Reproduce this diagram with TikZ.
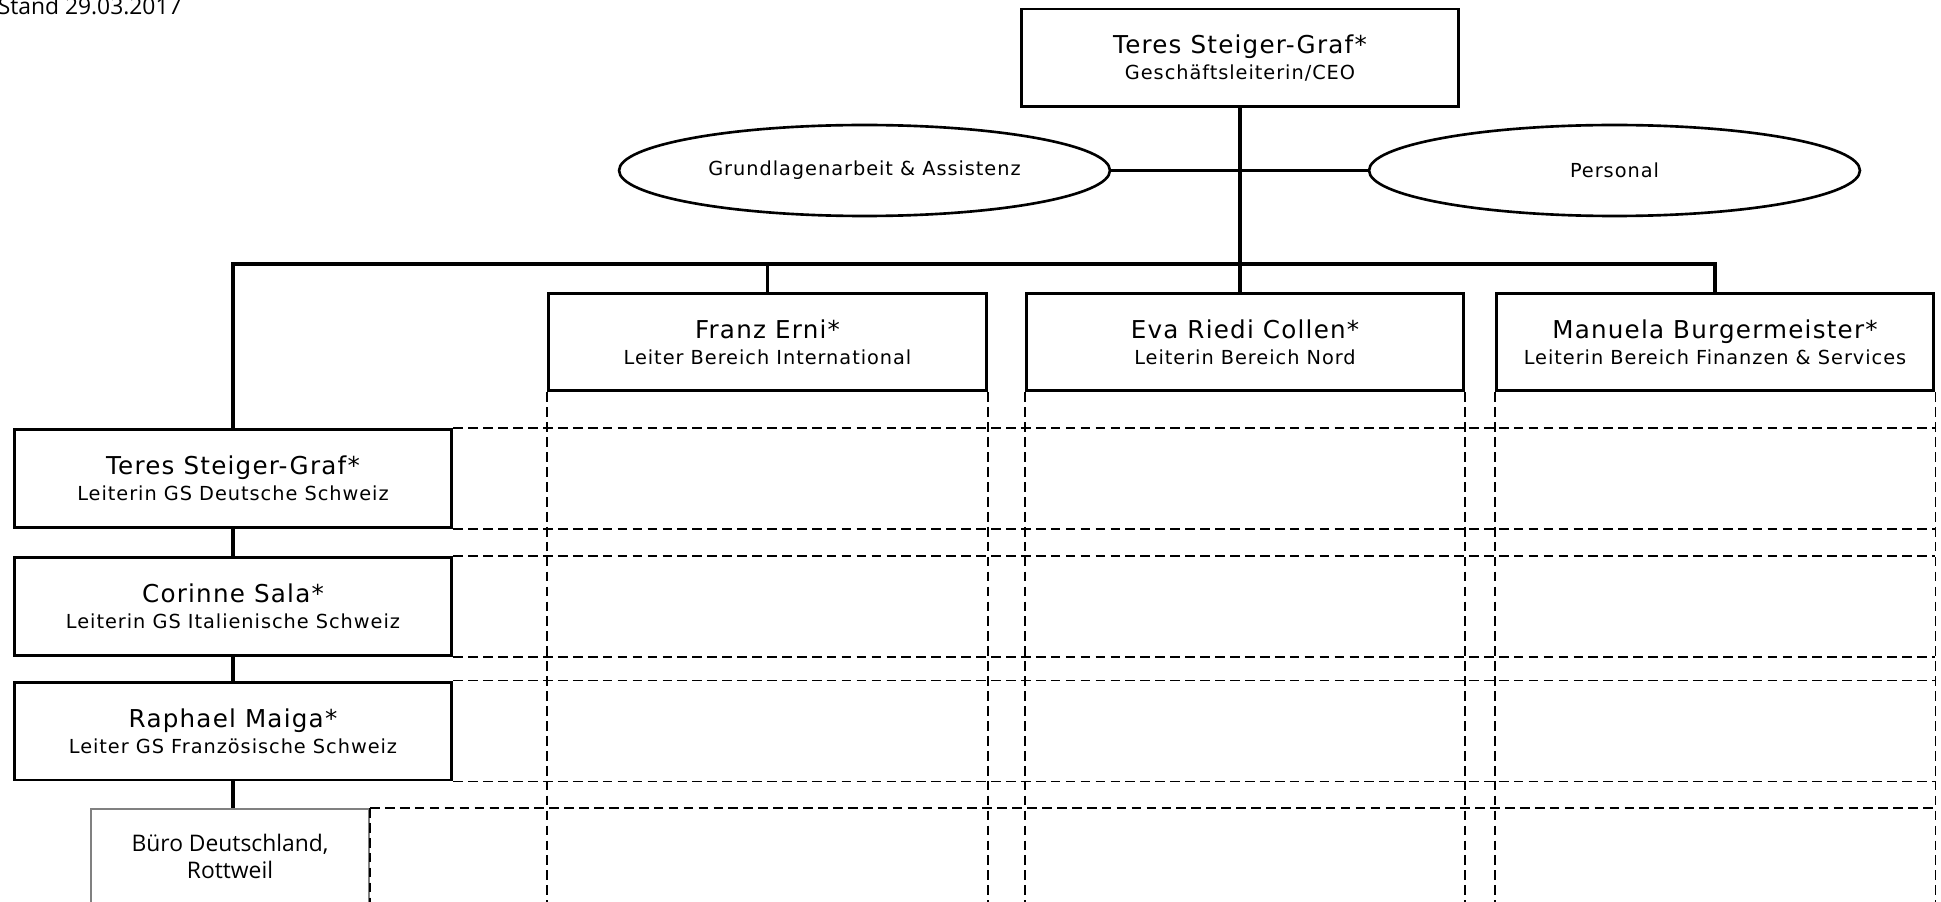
\documentclass[tikz,border=0pt]{standalone}
\usepackage{fontspec}
\setmainfont[LetterSpace=5]{DejaVu Sans}
\newfontfamily\officefont{Open Sans}
\usetikzlibrary{shapes.geometric}
\tikzset{person/.style={draw, line width=1.7pt, minimum width=8.76cm, minimum height=1.96cm, inner sep=0pt, align=center, font=\fontsize{11}{15}\selectfont}}
\tikzset{staff/.style={draw, ellipse, line width=1.5pt, minimum width=9.82cm, minimum height=1.82cm, inner sep=0pt, font=\fontsize{11}{15}\selectfont}}
\tikzset{office/.style={draw=gray, line width=1.2pt, anchor=north, minimum width=5.56cm, inner ysep=0.51cm, text depth=3cm, align=center, font=\officefont\fontsize{13}{15}\selectfont}}
\tikzset{link/.style={line width=1.9pt}}
\tikzset{slot/.style={line width=1.1pt, dash pattern=on 5.5pt off 3pt}}
\newcommand\pname[1]{{\fontsize{14}{15}\selectfont #1}}

\begin{document}
\begin{tikzpicture}[x=0.02cm, y=-0.02cm]
\useasboundingbox (0,0) rectangle (1941,902);

\node[anchor=base east, inner sep=0pt, font=\officefont\fontsize{13}{15}\selectfont]
(stand) at (182,15) {Stand 29.03.2017};

% Geschaeftsleitung
\node[person] (ceo) at (1240,58)
{\pname{Teres Steiger-Graf*}\\Geschäftsleiterin/CEO};

\node[staff] (assist) at (864.5,170.5) {Grundlagenarbeit \& Assistenz};
\node[staff] (hr) at (1614.5,170.5) {Personal};

% Bereiche
\node[person] (intl) at (767.5,342)
{\pname{Franz Erni*}\\Leiter Bereich International};

\node[person] (nord) at (1245,342)
{\pname{Eva Riedi Collen*}\\Leiterin Bereich Nord};

\node[person] (fin) at (1715,342)
{\pname{Manuela Burgermeister*}\\Leiterin Bereich Finanzen \& Services};

% Geschaeftsstellen
\node[person] (ds) at (233,478.5)
{\pname{Teres Steiger-Graf*}\\Leiterin GS Deutsche Schweiz};

\node[person] (it) at (233,606.5)
{\pname{Corinne Sala*}\\Leiterin GS Italienische Schweiz};

\node[person] (fr) at (233,731)
{\pname{Raphael Maiga*}\\Leiter GS Französische Schweiz};

\node[office] (buero) at (230,808) {Büro Deutschland,\\Rottweil};

\coordinate (bus) at (1240,264);
\coordinate (bottom) at (0,920);

\draw[link] (ceo.south) -- (ceo.south |- nord.north);
\draw[link] (assist.east) -- (hr.west);
\draw[link] (ds.north) |- (bus) -| (fin.north);
\draw[link] (intl.north) -- (intl.north |- bus);
\draw[link] (ds.south) -- (it.north);
\draw[link] (it.south) -- (fr.north);
\draw[link] (fr.south) -- (fr.south |- buero.north);

% Raster
\foreach \b in {intl,nord,fin} {
  \draw[slot] (\b.south west) -- (\b.south west |- bottom);
  \draw[slot] (\b.south east) -- (\b.south east |- bottom);
}
\foreach \b in {ds,it,fr} {
  \draw[slot] (\b.north east) -- (\b.north east -| fin.east);
  \draw[slot] (\b.south east) -- (\b.south east -| fin.east);
}
\draw[slot] (buero.north east) -- (buero.north east -| fin.east);
\draw[slot] (buero.north east) -- (buero.north east |- bottom);
\end{tikzpicture}
\end{document}
